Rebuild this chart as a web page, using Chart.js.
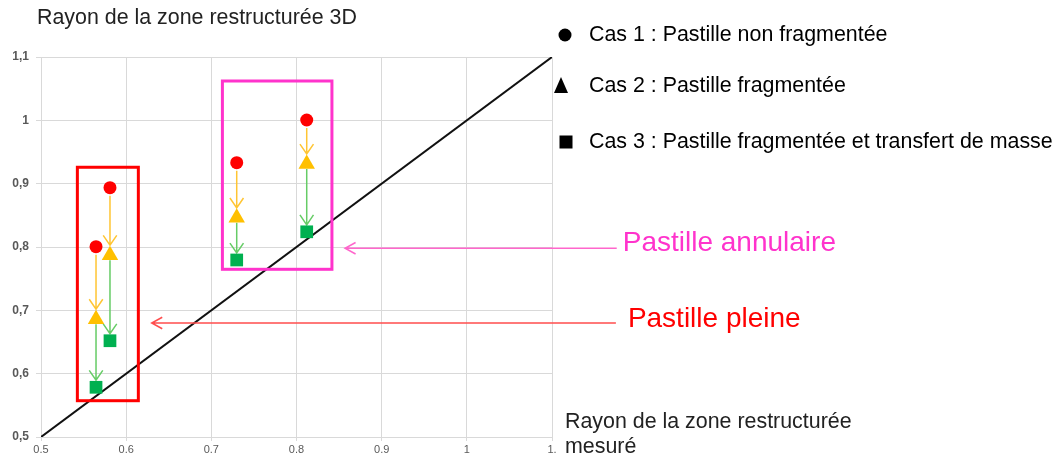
<!DOCTYPE html>
<html>
<head>
<meta charset="utf-8">
<script src="https://cdn.jsdelivr.net/npm/chart.js@4"></script>
<style>
body { margin: 0; background: #fff; }
</style>
</head>
<body>
<canvas id="rayonChart" width="1057" height="459"></canvas>
<script>
// rayon mesuré (x) et rayon calculé 3D pour les 3 cas
const xMesure = [0.5646, 0.581, 0.7298, 0.812];
const cas1 = [0.8005, 0.8937, 0.9331, 1.0005];
const cas2 = [0.686, 0.787, 0.846, 0.931];
const cas3 = [0.5785, 0.652, 0.7795, 0.824];
const xTickLabels = ['0.5', '0.6', '0.7', '0.8', '0.9', '1', '1.'];
const yTickLabels = ['0,5', '0,6', '0,7', '0,8', '0,9', '1', '1,1'];
const legendLabels = ['Cas 1 : Pastille non fragmentée', 'Cas 2 : Pastille fragmentée', 'Cas 3 : Pastille fragmentée et transfert de masse'];

const FONT = '"Liberation Sans", Arial, sans-serif';

function toPoints(xs, ys) {
    return xs.map((x, i) => ({ x: x, y: ys[i] }));
}

function drawArrow(ctx, x1, y1, x2, y2, color, size, spread) {
    const ang = Math.atan2(y2 - y1, x2 - x1);
    ctx.save();
    ctx.strokeStyle = color;
    ctx.lineWidth = 1.5;
    ctx.beginPath();
    ctx.moveTo(x1, y1);
    ctx.lineTo(x2, y2);
    ctx.moveTo(x2 - size * Math.cos(ang - spread), y2 - size * Math.sin(ang - spread));
    ctx.lineTo(x2, y2);
    ctx.lineTo(x2 - size * Math.cos(ang + spread), y2 - size * Math.sin(ang + spread));
    ctx.stroke();
    ctx.restore();
}

const annotations = {
    id: 'annotations',
    beforeDatasetsDraw(chart) {
        const ctx = chart.ctx;
        const x = chart.scales.x, y = chart.scales.y;
        xMesure.forEach((v, i) => {
            const px = x.getPixelForValue(v);
            drawArrow(ctx, px, y.getPixelForValue(cas1[i]) + 8, px, y.getPixelForValue(cas2[i]) - 10, '#ffc533', 12, 0.6);
            drawArrow(ctx, px, y.getPixelForValue(cas2[i]) + 5, px, y.getPixelForValue(cas3[i]) - 7, '#66cc66', 12, 0.6);
        });
    },
    afterDatasetsDraw(chart, args, opts) {
        const ctx = chart.ctx;
        const x = chart.scales.x, y = chart.scales.y;
        opts.boxes.forEach(b => {
            const l = x.getPixelForValue(b.x[0]), r = x.getPixelForValue(b.x[1]);
            const t = y.getPixelForValue(b.y[1]), btm = y.getPixelForValue(b.y[0]);
            ctx.save();
            ctx.strokeStyle = b.color;
            ctx.lineWidth = 3;
            ctx.strokeRect(l, t, r - l, btm - t);
            ctx.restore();
        });
    },
    afterDraw(chart, args, opts) {
        const ctx = chart.ctx;
        const x = chart.scales.x, y = chart.scales.y;

        // fleches vers les boites + libellés
        opts.pointers.forEach(p => {
            const py = y.getPixelForValue(p.y);
            const tip = x.getPixelForValue(p.x[0]), end = x.getPixelForValue(p.x[1]);
            drawArrow(ctx, end, py, tip, py, p.line, 12, 0.5);
            ctx.save();
            ctx.fillStyle = p.color;
            ctx.font = '28px ' + FONT;
            ctx.textBaseline = 'middle';
            ctx.fillText(p.text, end + p.dx, py + p.dy);
            ctx.restore();
        });

        ctx.save();
        ctx.fillStyle = '#222';
        ctx.font = '21.4px ' + FONT;
        ctx.textBaseline = 'middle';
        ctx.fillText('Rayon de la zone restructurée 3D', 37, 18);
        ctx.fillText('Rayon de la zone restructurée', 565, 422);
        ctx.fillText('mesuré', 565, 447);

        // légende
        ctx.fillStyle = '#000';
        const rows = [35, 86, 142];
        ctx.beginPath();
        ctx.arc(565, rows[0], 6.5, 0, Math.PI * 2);
        ctx.fill();
        ctx.beginPath();
        ctx.moveTo(561, rows[1] - 9);
        ctx.lineTo(568, rows[1] + 7);
        ctx.lineTo(554, rows[1] + 7);
        ctx.closePath();
        ctx.fill();
        ctx.fillRect(559.5, rows[2] - 6.5, 13, 13);
        legendLabels.forEach((t, i) => ctx.fillText(t, 589, rows[i]));
        ctx.restore();
    }
};

document.addEventListener('DOMContentLoaded', function() {
    const ctx = document.getElementById('rayonChart').getContext('2d');

    new Chart(ctx, {
        type: 'scatter',
        data: {
            datasets: [{
                label: legendLabels[0],
                data: toPoints(xMesure, cas1),
                pointStyle: 'circle',
                pointRadius: 6.5,
                backgroundColor: '#ff0000',
                borderWidth: 0
            }, {
                label: legendLabels[1],
                data: toPoints(xMesure, cas2),
                pointStyle: 'triangle',
                pointRadius: 9.5,
                backgroundColor: '#ffc000',
                borderWidth: 0
            }, {
                label: legendLabels[2],
                data: toPoints(xMesure, cas3),
                pointStyle: 'rect',
                pointRadius: 9,
                backgroundColor: '#00b050',
                borderWidth: 0
            }, {
                type: 'line',
                label: 'y = x',
                data: [{ x: 0.5, y: 0.5 }, { x: 1.1, y: 1.1 }],
                borderColor: '#111',
                borderWidth: 2,
                pointRadius: 0
            }]
        },
        options: {
            responsive: false,
            animation: false,
            layout: {
                padding: { left: 0, top: 57, right: 505, bottom: 0 }
            },
            scales: {
                x: {
                    type: 'linear',
                    min: 0.5,
                    max: 1.1,
                    afterFit: function(scale) { scale.height = 22; },
                    ticks: {
                        stepSize: 0.1,
                        padding: 2,
                        color: '#595959',
                        font: { family: FONT, size: 11 },
                        maxRotation: 0,
                        callback: (v, i) => xTickLabels[i]
                    },
                    grid: { color: '#d9d9d9', tickLength: 4 },
                    border: { color: '#d9d9d9' }
                },
                y: {
                    type: 'linear',
                    min: 0.5,
                    max: 1.1,
                    afterFit: function(scale) { scale.width = 41; },
                    ticks: {
                        stepSize: 0.1,
                        padding: 7,
                        color: '#595959',
                        font: { family: FONT, size: 12, weight: 'bold' },
                        callback: (v, i) => yTickLabels[i]
                    },
                    grid: { color: '#d9d9d9', tickLength: 5 },
                    border: { color: '#d9d9d9' }
                }
            },
            plugins: {
                legend: { display: false },
                tooltip: { enabled: false },
                annotations: {
                    boxes: [
                        { x: [0.5427, 0.6143], y: [0.5573, 0.9259], color: '#ff0000' },
                        { x: [0.713, 0.8416], y: [0.7648, 1.0621], color: '#ff33cc' }
                    ],
                    pointers: [
                        { x: [0.857, 1.176], y: 0.798, text: 'Pastille annulaire', color: '#ff33cc', line: '#ff66cc', dx: 6, dy: -5 },
                        { x: [0.630, 1.175], y: 0.680, text: 'Pastille pleine', color: '#ff0000', line: '#ff4d4d', dx: 12, dy: -4 }
                    ]
                }
            }
        },
        plugins: [annotations]
    });
});
</script>
</body>
</html>
